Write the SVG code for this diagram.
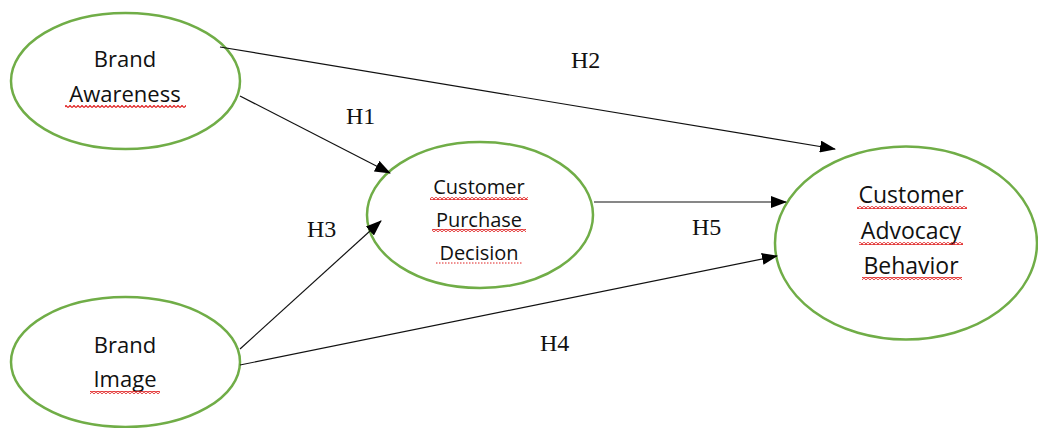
<svg xmlns="http://www.w3.org/2000/svg" width="1038" height="428" viewBox="0 0 1038 428">
<style>
.node{fill:#fff;stroke:#70AD47;stroke-width:2.5}
.t{font-family:"Open Sans","Liberation Sans",sans-serif;fill:#111;text-anchor:middle}
.h{font-family:"Liberation Serif","Times New Roman",serif;font-size:24px;fill:#111}
.c{stroke:#111;stroke-width:1.2;fill:none;marker-end:url(#ah)}
.wave{fill:url(#wv)}
</style>
<defs>
<marker id="ah" markerUnits="userSpaceOnUse" markerWidth="16" markerHeight="12" refX="15" refY="6" orient="auto">
<path d="M0,0 L16,6 L0,12 Z" fill="#000"/>
</marker>
<pattern id="wv" patternUnits="userSpaceOnUse" width="4" height="3">
<path d="M0,2.5 L2,0.5 L4,2.5" fill="none" stroke="#e02020" stroke-width="1.2"/>
</pattern>
</defs>
<rect width="1038" height="428" fill="#fff"/>
<g id="brand-awareness">
<ellipse class="node" cx="125.5" cy="81" rx="114.5" ry="68"/>
<text class="t" font-size="22" x="125" y="67">Brand</text>
<text class="t" font-size="22" x="125" y="102">Awareness</text>
<rect class="wave" x="65" y="105" width="121" height="3"/>
</g>
<g id="brand-image">
<ellipse class="node" cx="125.5" cy="362" rx="114.5" ry="65"/>
<text class="t" font-size="22" x="125" y="353">Brand</text>
<text class="t" font-size="22" x="125" y="387">Image</text>
<rect class="wave" x="90" y="391" width="70" height="3"/>
</g>
<g id="customer-purchase-decision">
<ellipse class="node" cx="480" cy="215" rx="113" ry="73"/>
<text class="t" font-size="20" x="479" y="194">Customer</text>
<text class="t" font-size="20" x="479" y="227">Purchase</text>
<text class="t" font-size="20" x="479" y="260">Decision</text>
<rect class="wave" x="430" y="197" width="98" height="3"/>
<rect class="wave" x="432" y="229" width="94" height="3"/>
<line x1="436" y1="263" x2="522" y2="263" stroke="#e02020" stroke-width="1" stroke-dasharray="1.5,1.5"/>
</g>
<g id="customer-advocacy-behavior">
<ellipse class="node" cx="906" cy="243" rx="131" ry="96.5"/>
<text class="t" font-size="23" x="911" y="203">Customer</text>
<text class="t" font-size="23" x="911" y="239">Advocacy</text>
<text class="t" font-size="23" x="911" y="274">Behavior</text>
<rect class="wave" x="857" y="206" width="110" height="3"/>
<rect class="wave" x="859" y="242" width="104" height="3"/>
<rect class="wave" x="862" y="277" width="100" height="3"/>
</g>
<g id="connectors">
<line class="c" x1="220" y1="47" x2="835" y2="149"/>
<line class="c" x1="240" y1="96" x2="390" y2="173"/>
<line class="c" x1="240" y1="349" x2="381" y2="221"/>
<line class="c" x1="594" y1="202" x2="786" y2="202"/>
<line class="c" x1="240" y1="365" x2="777" y2="256"/>
</g>
<g id="labels">
<text class="h" x="571" y="68">H2</text>
<text class="h" x="346" y="124">H1</text>
<text class="h" x="307" y="237">H3</text>
<text class="h" x="692" y="235">H5</text>
<text class="h" x="540" y="351">H4</text>
</g>
</svg>
